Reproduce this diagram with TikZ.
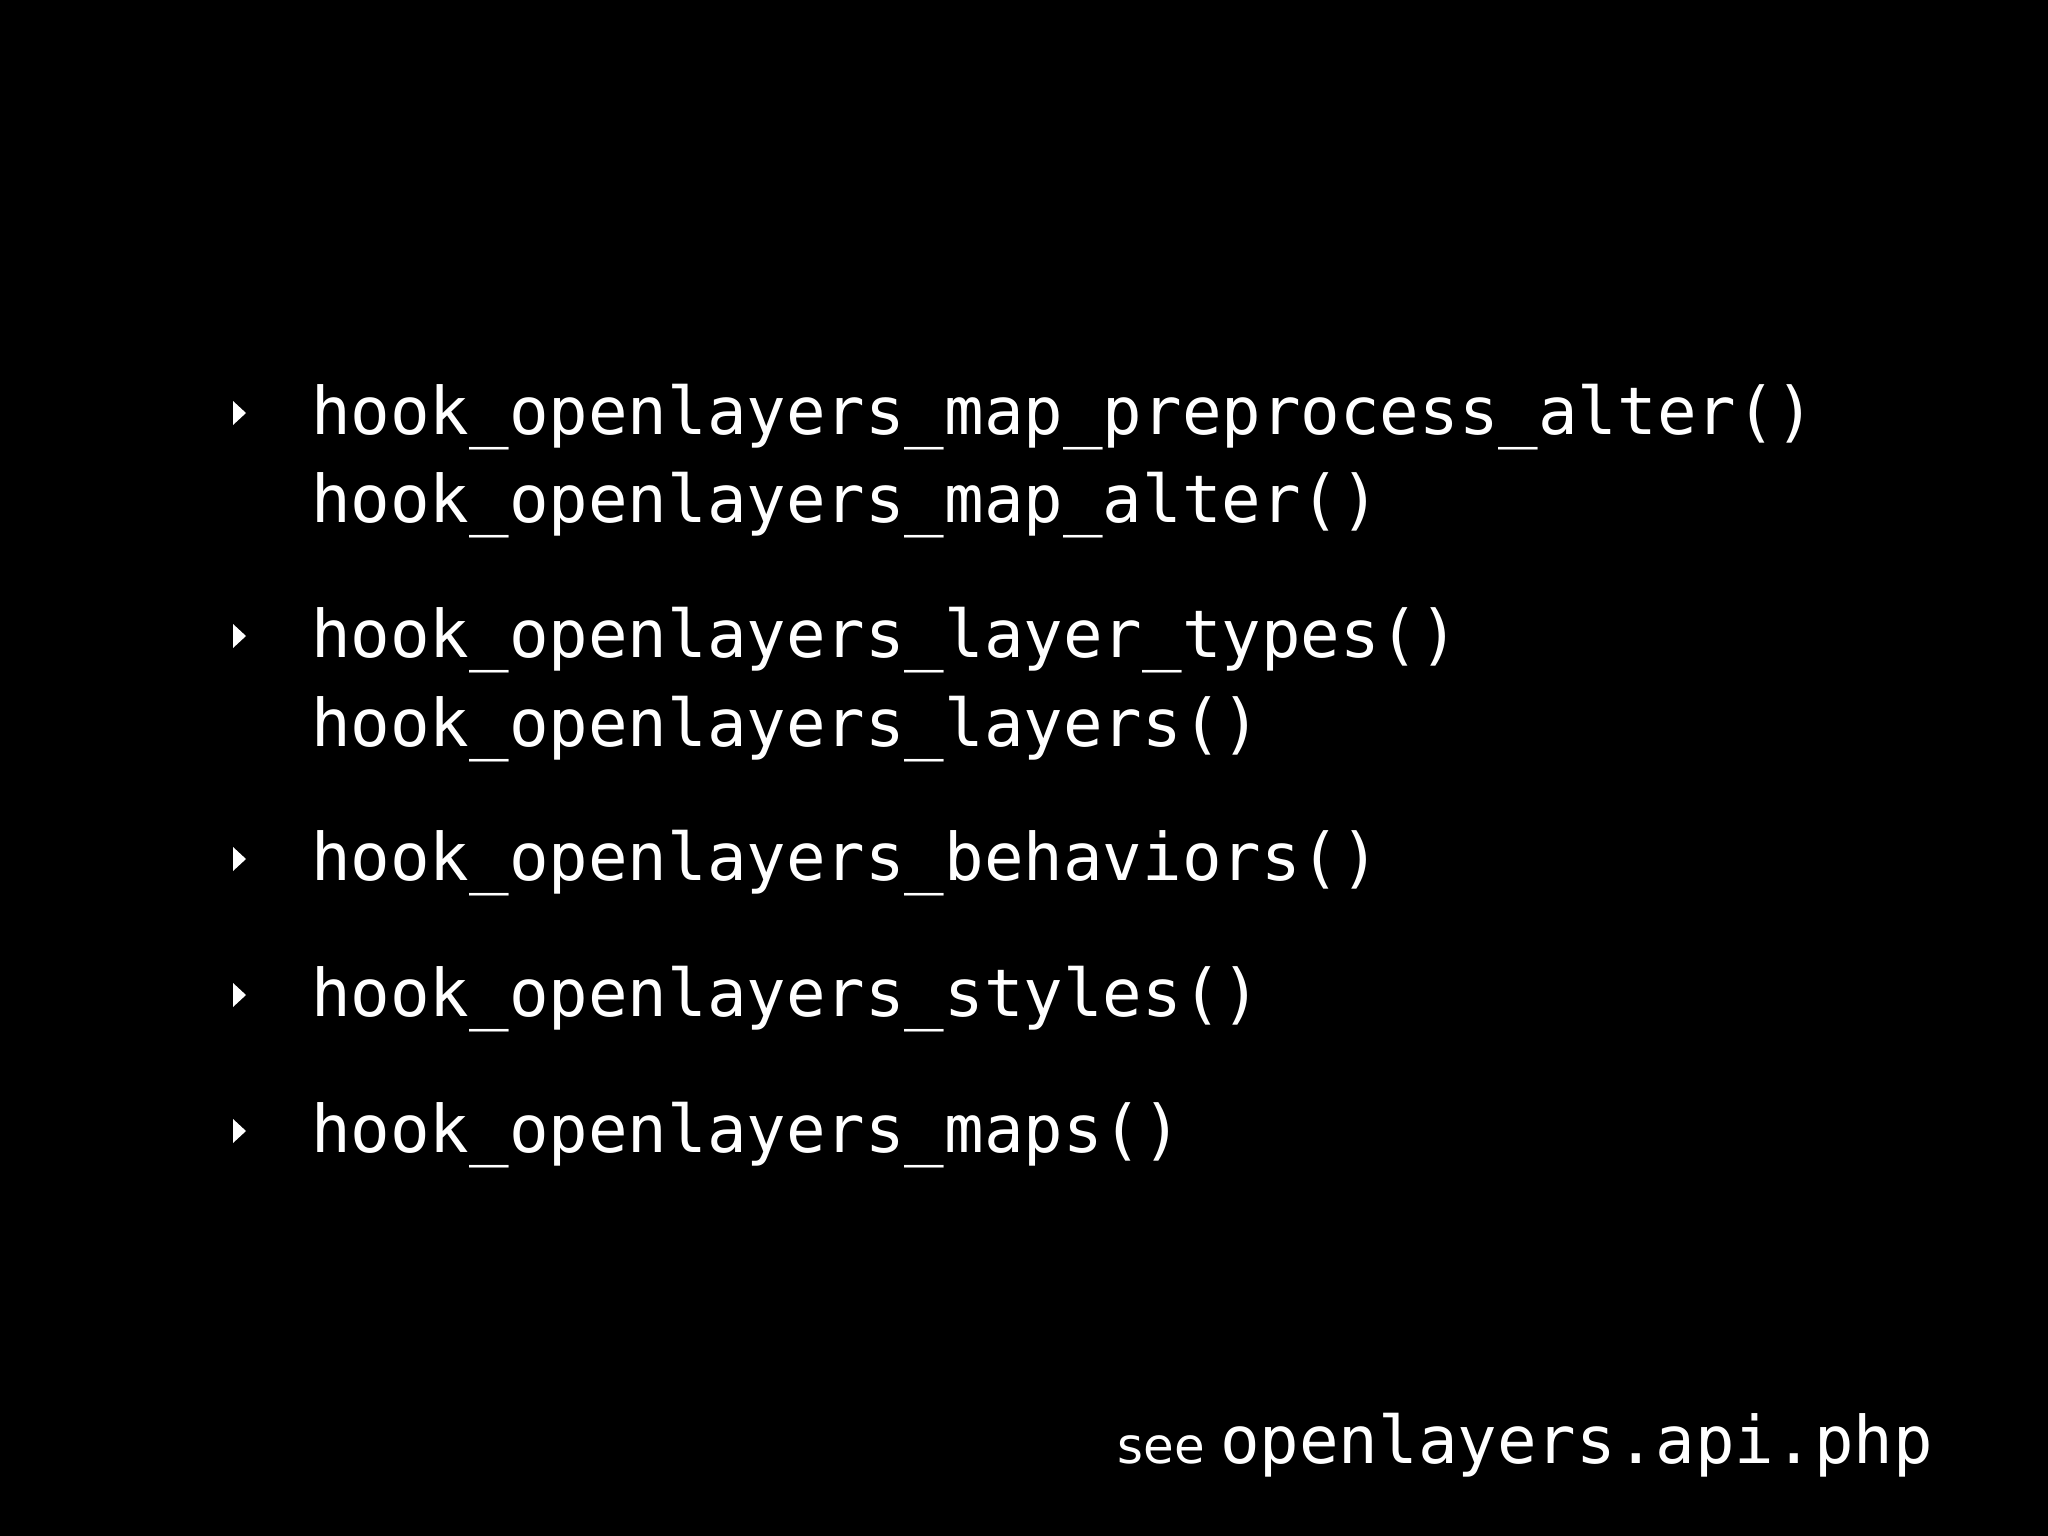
\documentclass[tikz,border=0pt]{standalone}
\usepackage{fontspec}
\setmonofont{DejaVu Sans Mono}
\setsansfont{DejaVu Sans}
\begin{document}
\begin{tikzpicture}[x=1bp,y=-1bp,
  code/.style={anchor=base west,inner sep=0,text=white,font=\ttfamily\fontsize{66}{79}\selectfont},
  bul/.style={fill=white,draw=none}]
\fill[black] (0,0) rectangle (2048,1536);
\useasboundingbox (0,0) rectangle (2048,1536);
\foreach \y/\t [count=\i] in {434/hook\_openlayers\_map\_preprocess\_alter(),522/hook\_openlayers\_map\_alter(),657/hook\_openlayers\_layer\_types(),746/hook\_openlayers\_layers(),880/hook\_openlayers\_behaviors(),1016/hook\_openlayers\_styles(),1152/hook\_openlayers\_maps()}
  \node[code] (l\i) at (311,\y) {\t};
\foreach \y in {434,657,880,1016,1152}
  \fill[white] (233,\y-33) -- (246,\y-21) -- (233,\y-9) -- cycle;
\node[code,anchor=base east] (api) at (1933,1463) {openlayers.api.php};
\node[anchor=base east,inner sep=0,text=white,font=\sffamily\fontsize{50}{60}\selectfont] (see) at (1205,1463) {see};
\end{tikzpicture}
\end{document}
